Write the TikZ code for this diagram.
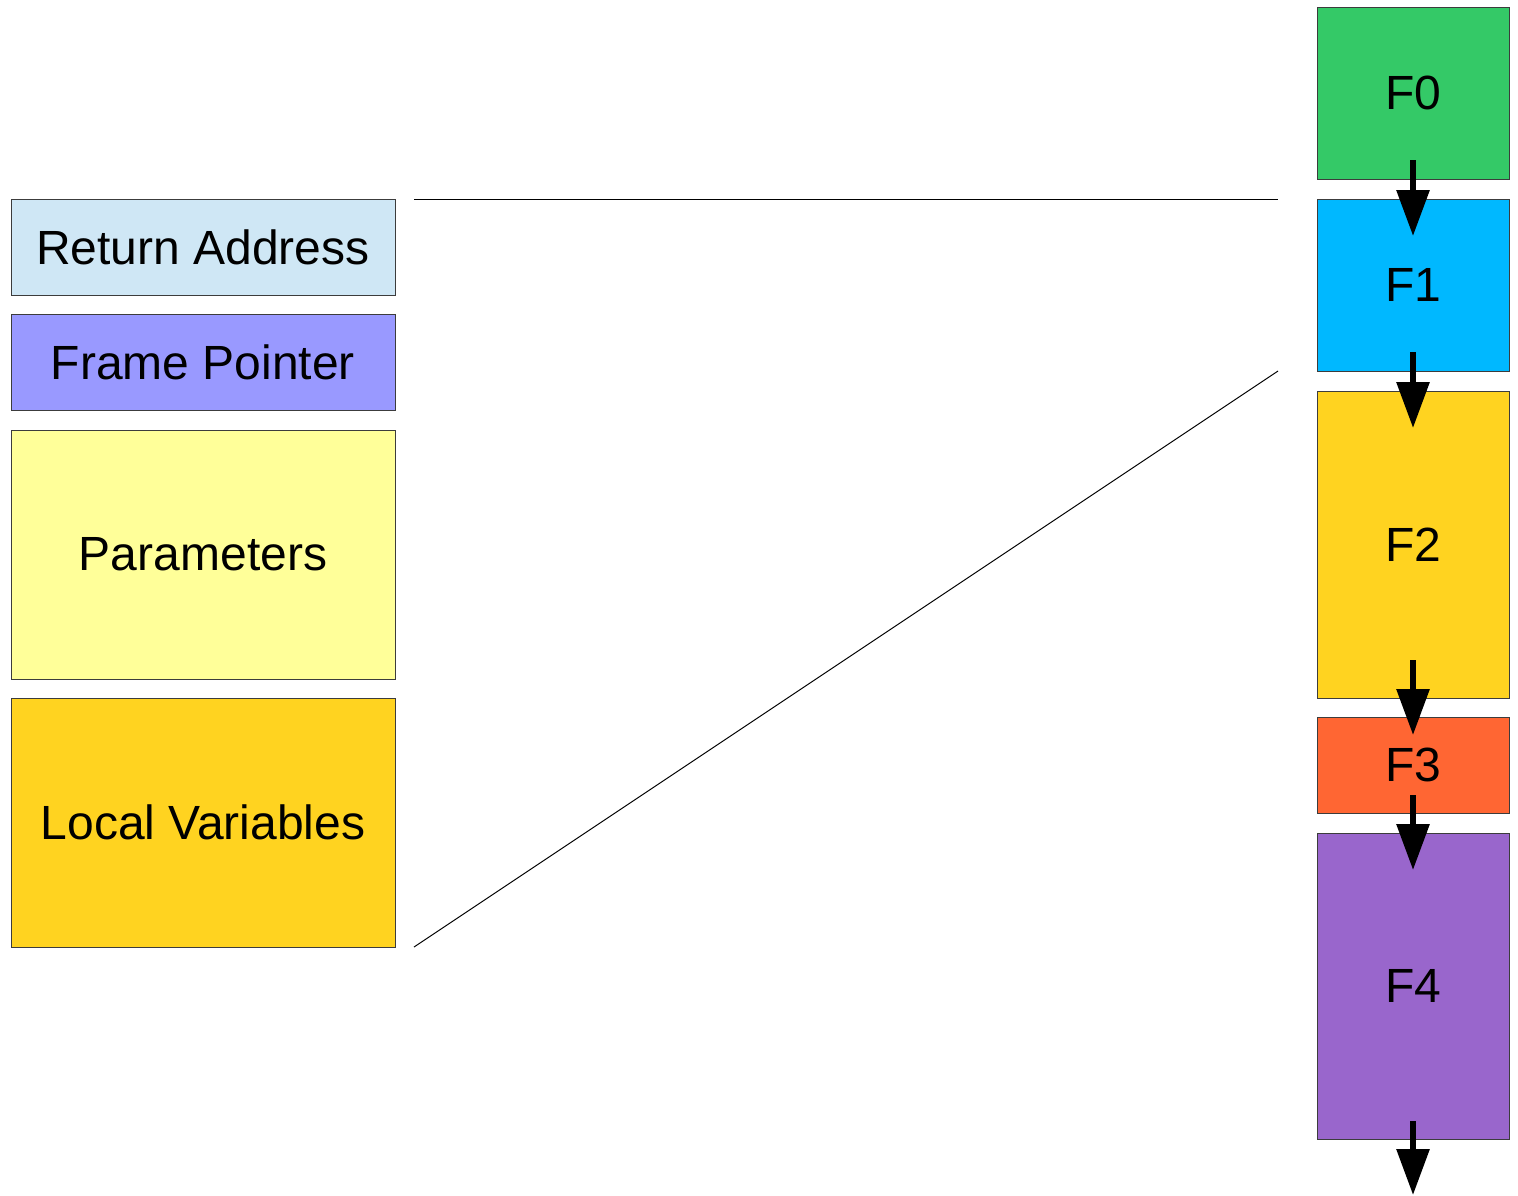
\documentclass[tikz,border=0pt]{standalone}
\usepackage{fontspec}
\setmainfont{Liberation Sans}
\usetikzlibrary{arrows.meta,calc}
\definecolor{cF0}{HTML}{34C967}
\definecolor{cF1}{HTML}{00B8FF}
\definecolor{cF2}{HTML}{FFD320}
\definecolor{cF3}{HTML}{FF6633}
\definecolor{cF4}{HTML}{9966CC}
\definecolor{cRA}{HTML}{CFE7F5}
\definecolor{cFP}{HTML}{9999FF}
\definecolor{cPA}{HTML}{FFFF99}
\definecolor{cLV}{HTML}{FFD320}
\definecolor{edge}{HTML}{3C3C3C}
\begin{document}
\begin{tikzpicture}[x=0.5pt,y=-0.5pt,
  blk/.style={draw=edge,line width=0.5pt,inner sep=0pt,outer sep=0pt,
    font=\fontsize{24}{29}\selectfont,text=black},
  leftblk/.style={blk,minimum width=192pt},
  frame/.style={blk,minimum width=96pt},
  flow/.style={line width=3pt,-{Triangle[width=16pt,length=23pt]}},
  thin/.style={line width=0.5pt,draw=black}]
\useasboundingbox (0,0) rectangle (1518,1195);
% left legend
\node[leftblk,fill=cRA,minimum height=48pt] (ra) at (203,247) {Return Address};
\node[leftblk,fill=cFP,minimum height=48pt] (fp) at (203,362) {Frame Pointer};
\node[leftblk,fill=cPA,minimum height=124.5pt] (pa) at (203,554.5) {Parameters};
\node[leftblk,fill=cLV,minimum height=124.5pt] (lv) at (203,822.5) {Local Variables};
% frames
\node[frame,fill=cF0,minimum height=86pt] (f0) at (1413,93) {F0};
\node[frame,fill=cF1,minimum height=86pt] (f1) at (1413,285) {F1};
\node[frame,fill=cF2,minimum height=153.5pt] (f2) at (1413,544.5) {F2};
\node[frame,fill=cF3,minimum height=48pt] (f3) at (1413,765) {F3};
\node[frame,fill=cF4,minimum height=153pt] (f4) at (1413,986) {F4};
% zoom lines
\coordinate (hA) at (414,199);
\coordinate (hB) at (1278,199);
\coordinate (dA) at (414,947);
\coordinate (dB) at (1278,371);
\draw[thin] (hA) -- (hB);
\draw[thin] (dA) -- (dB);
% arrows
\coordinate (end) at (1413,1195);
\draw[flow] ($(f0.south)+(0,-19)$) -- ($(f1.north)+(0,37)$);
\draw[flow] ($(f1.south)+(0,-19)$) -- ($(f2.north)+(0,37)$);
\draw[flow] ($(f2.south)+(0,-38)$) -- ($(f3.north)+(0,18)$);
\draw[flow] ($(f3.south)+(0,-18)$) -- ($(f4.north)+(0,37)$);
\draw[flow] ($(f4.south)+(0,-18)$) -- (end);
\end{tikzpicture}
\end{document}
